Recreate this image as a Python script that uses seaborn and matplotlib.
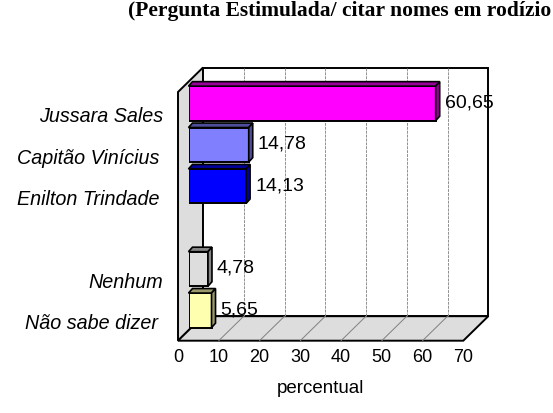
import numpy as np
import pandas as pd
import seaborn as sns
import matplotlib
matplotlib.use('Agg')
import matplotlib.pyplot as plt
from matplotlib.patches import Polygon
from matplotlib.transforms import Affine2D

categories = ['Jussara Sales', 'Capitão Vinícius', 'Enilton Trindade', ' ', 'Nenhum', 'Não sabe dizer']
values = [60.65, 14.78, 14.13, np.nan, 4.78, 5.65]
colors = ['#FF00FF', '#8080FF', '#0000FF', '#FFFFFF', '#DDDDDD', '#FFFFB0']
x_ticks = [0, 10, 20, 30, 40, 50, 60, 70]
title_text = '(Pergunta Estimulada/ citar nomes em rodízio'

W, H = 553, 414
FRONT_L, FRONT_R, FRONT_T, FRONT_B = 178, 463.3, 93, 341.7
DEPTH_X, DEPTH_Y = 25, 24.5
BAR_SHIFT = 10.5
BAR_DX, BAR_DY = 4.0, 4.5
YLIM = (5.48, -0.53)
LABEL_NUDGE = [0, -3, -3, 0, 0, -5]

sns.set_theme(style='white')
plt.rcParams['font.family'] = ['Liberation Sans', 'DejaVu Sans']

df = pd.DataFrame({'cat': categories, 'val': values})
fig = plt.figure(figsize=(W / 100, H / 100), dpi=100)


def px_axes(l, r, t, b, z):
    a = fig.add_axes([l / W, 1 - b / H, (r - l) / W, (b - t) / H], zorder=z)
    a.patch.set_visible(False)
    return a


# backdrop in pixel coordinates, the fake 3d box
bg = fig.add_axes([0, 0, 1, 1], zorder=0)
bg.set_xlim(0, W)
bg.set_ylim(H, 0)
bg.axis('off')
back_l, back_r = FRONT_L + DEPTH_X, FRONT_R + DEPTH_X
back_t, back_b = FRONT_T - DEPTH_Y, FRONT_B - DEPTH_Y
bg.add_patch(Polygon([(FRONT_L, FRONT_T), (back_l, back_t), (back_l, back_b), (FRONT_L, FRONT_B)],
                     fc='#DDDDDD', ec='black', lw=1.4))
bg.add_patch(Polygon([(FRONT_L, FRONT_B), (back_l, back_b), (back_r, back_b), (FRONT_R, FRONT_B)],
                     fc='#DDDDDD', ec='black', lw=1.4))
bg.add_patch(Polygon([(back_l, back_t), (back_r, back_t), (back_r, back_b), (back_l, back_b)],
                     fc='white', ec='black', lw=1.4))
step = (FRONT_R - FRONT_L) / 70
for t in x_ticks[1:-1]:
    bx = back_l + t * step
    bg.plot([bx, bx], [back_t, back_b], color='#909090', lw=0.7, ls=(0, (3, 1)))
    bg.plot([FRONT_L + t * step, bx], [FRONT_B, back_b], color='#808080', lw=0.7)

# front plane, only carries the axis labels
front = px_axes(FRONT_L, FRONT_R, FRONT_T, FRONT_B, 1)
front.set_xlim(0, 70)
front.set_ylim(*YLIM)
front.set_xticks(x_ticks)
front.set_xticklabels([str(t) for t in x_ticks], fontsize=13, color='black')
front.set_yticks(range(len(categories)))
front.set_yticklabels(categories, fontsize=14.2, style='italic', color='black')
front.tick_params(axis='both', length=0)
front.tick_params(axis='x', pad=5)
front.tick_params(axis='y', pad=11)
front.set_xlabel('percentual', fontsize=13.5, color='black', labelpad=10.5)
for s in front.spines.values():
    s.set_visible(False)
for lab, nudge in zip(front.get_yticklabels(), LABEL_NUDGE):
    lab.set_transform(lab.get_transform() + Affine2D().translate(nudge, 0))

# bars sit half way into the box
ax = px_axes(FRONT_L + BAR_SHIFT, FRONT_R + BAR_SHIFT, FRONT_T - BAR_SHIFT, FRONT_B - BAR_SHIFT, 2)
sns.barplot(data=df, y='cat', x='val', hue='cat', order=categories, hue_order=categories,
            palette=colors, saturation=1, width=0.835, dodge=False, legend=False,
            edgecolor='black', linewidth=1.4, ax=ax)
ax.set_xlim(0, 70)
ax.set_ylim(*YLIM)
ax.axis('off')

ddx = BAR_DX / step
ddy = BAR_DY * (YLIM[0] - YLIM[1]) / (FRONT_B - FRONT_T)
for bar in list(ax.patches):
    w = bar.get_width()
    if not np.isfinite(w) or w == 0:
        continue
    y0, h = bar.get_y(), bar.get_height()
    r, g, b, _ = bar.get_facecolor()
    dark = (r * 0.6, g * 0.6, b * 0.6)
    ax.add_patch(Polygon([(0, y0), (ddx, y0 - ddy), (w + ddx, y0 - ddy), (w, y0)],
                         fc=dark, ec='black', lw=1.2, clip_on=False, zorder=3))
    ax.add_patch(Polygon([(w, y0), (w + ddx, y0 - ddy), (w + ddx, y0 + h - ddy), (w, y0 + h)],
                         fc=dark, ec='black', lw=1.2, clip_on=False, zorder=3))
    ax.annotate(f'{w:.2f}'.replace('.', ','), (w, y0 + h / 2), xytext=(9, 1.5), textcoords='offset pixels',
                ha='left', va='center', fontsize=14, color='black', zorder=5)

fig.text(128 / W, 1 - 11 / H, title_text, family=['Liberation Serif', 'DejaVu Serif'],
         weight='bold', fontsize=15.5, color='black', ha='left', va='center')

fig.savefig('out.png', dpi=100)
